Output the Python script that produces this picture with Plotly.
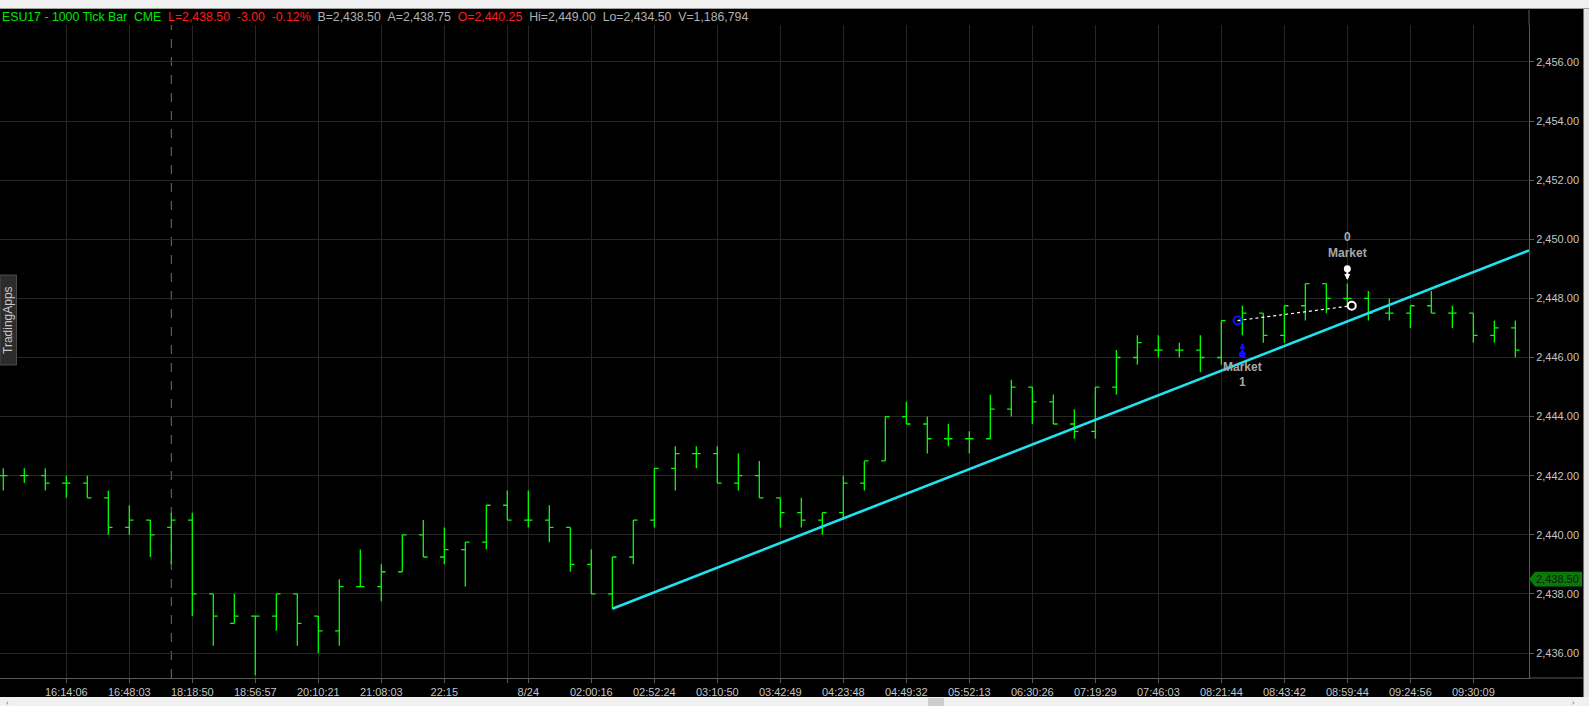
import plotly.graph_objects as go

# bar data (1000 tick bars)
bar_open = [2442, 2442, 2442, 2441.75, 2441.75, 2441.25, 2440.25, 2440.5, 2440.25, 2440.5,
            2438, 2437, 2437.25, 2437.25, 2438, 2437.25, 2436.75, 2438.25, 2438.25, 2438.75,
            2440, 2439.25, 2439.5, 2439.75, 2441, 2440.5, 2440.5, 2440.25, 2439, 2438,
            2439.25, 2440.5, 2442.25, 2442.75, 2442.75, 2441.75, 2442, 2441.25, 2440.75, 2440.5,
            2440.75, 2441.75, 2442.5, 2444, 2443.75, 2443.25, 2443.25, 2443.25, 2444.25, 2445,
            2444.5, 2443.75, 2443.5, 2445, 2446, 2446.25, 2446.25, 2446.25, 2446, 2447.25,
            2447.5, 2446.75, 2447.75, 2448.5, 2448, 2448, 2447.5, 2447.5, 2447.75, 2447.5,
            2447.5, 2446.75, 2447]
bar_high = [2442.25, 2442.25, 2442.25, 2442, 2442, 2441.5, 2441, 2440.5, 2440.75, 2440.75,
            2438, 2438, 2437.25, 2438, 2438, 2437.25, 2438.5, 2439.5, 2439, 2440,
            2440.5, 2440.25, 2439.75, 2441, 2441.5, 2441.5, 2441, 2440.25, 2439.5, 2439.25,
            2440.5, 2442.25, 2443, 2443, 2443, 2442.75, 2442.5, 2441.25, 2441.25, 2440.75,
            2442, 2442.5, 2444, 2444.5, 2444, 2443.75, 2443.5, 2444.75, 2445.25, 2445,
            2444.75, 2444.25, 2445, 2446.25, 2446.75, 2446.75, 2446.5, 2446.75, 2447.25, 2447.75,
            2447.5, 2447.75, 2448.5, 2448.5, 2448.5, 2448.25, 2448, 2447.75, 2448.25, 2447.75,
            2447.5, 2447.25, 2447.25]
bar_low = [2441.5, 2441.75, 2441.5, 2441.25, 2441.25, 2440, 2440, 2439.25, 2439, 2437.25,
           2436.25, 2437, 2435.25, 2436.75, 2436.25, 2436, 2436.25, 2438.25, 2437.75, 2438.75,
           2439.25, 2439, 2438.25, 2439.5, 2440.5, 2440.25, 2439.75, 2438.75, 2438, 2437.5,
           2439, 2440.25, 2441.5, 2442.25, 2441.75, 2441.5, 2441.25, 2440.25, 2440.25, 2440,
           2440.5, 2441.5, 2442.5, 2443.75, 2442.75, 2443, 2442.75, 2443.25, 2444, 2443.75,
           2443.75, 2443.25, 2443.25, 2444.75, 2445.75, 2446, 2446, 2445.5, 2445.75, 2446.75,
           2446.5, 2446.5, 2447.25, 2447.5, 2447.75, 2447.25, 2447.25, 2447, 2447.5, 2447,
           2446.5, 2446.5, 2446]
bar_close = [2442, 2442, 2441.75, 2441.75, 2441.25, 2440.25, 2440.5, 2440, 2440.5, 2438,
             2437.25, 2437.25, 2437.25, 2438, 2437, 2436.75, 2438.25, 2438.25, 2438.75, 2440,
             2439.25, 2439.5, 2439.75, 2441, 2440.5, 2440.5, 2440.25, 2439, 2438, 2439.25,
             2440.5, 2442.25, 2442.75, 2442.75, 2441.75, 2442, 2441.25, 2440.75, 2440.5, 2440.75,
             2441.75, 2442.5, 2444, 2443.75, 2443.25, 2443.25, 2443.25, 2444.25, 2445, 2444.5,
             2443.75, 2443.5, 2445, 2446, 2446.5, 2446.25, 2446.25, 2446, 2447.25, 2447.5,
             2446.75, 2447.75, 2448.5, 2448, 2448, 2447.5, 2447.5, 2447.75, 2447.5, 2447.5,
             2446.75, 2447, 2446.25]
bar_idx = list(range(len(bar_close)))

# time axis labels (bar index -> label)
tick_bars = [3, 6, 9, 12, 15, 18, 21, 24, 25, 28, 31, 34, 37, 40, 43, 46, 49, 52, 55, 58, 61, 64, 67, 70]
tick_labels = ['16:14:06', '16:48:03', '18:18:50', '18:56:57', '20:10:21', '21:08:03', '22:15', '',
               '8/24', '02:00:16', '02:52:24', '03:10:50', '03:42:49', '04:23:48', '04:49:32',
               '05:52:13', '06:30:26', '07:19:29', '07:46:03', '08:21:44', '08:43:42', '08:59:44',
               '09:24:56', '09:30:09']
session_break = 8

# trend line anchors
trend_x = [29, 56]
trend_y = [2437.5, 2445.0]

# trade markers
entry_x, entry_y = 58.77, 2447.25
exit_x, exit_y = 64.21, 2447.75
buy_bar, buy_tip, buy_tail = 59, 2446.5, 2446.1
sell_bar, sell_tip, sell_tail = 64, 2448.62, 2449.0
last_price = 2438.5

X_RANGE = [-0.157, 72.65]
Y_RANGE = [2435.155, 2457.25]

# pixel helpers for frame decorations
PW, PH, TOP, BOT = 1529, 653, 25, 678
def px(x):
    return x / PW
def py(y):
    return (BOT - y) / PH

GREEN = '#00ff00'
GREY_TXT = '#c4c4c4'
GRID = '#262626'
FONT = 'Liberation Sans, Arial'

fig = go.Figure()
fig.add_trace(go.Ohlc(x=bar_idx, open=bar_open, high=bar_high, low=bar_low, close=bar_close,
                      increasing_line_color=GREEN, decreasing_line_color=GREEN,
                      line_width=1.3, tickwidth=0.2, hoverinfo='skip', showlegend=False))

# trend ray, extended to the right edge
slope = (trend_y[1] - trend_y[0]) / (trend_x[1] - trend_x[0])
ray_x = [trend_x[0], X_RANGE[1]]
ray_y = [trend_y[0], trend_y[0] + slope * (X_RANGE[1] - trend_x[0])]
fig.add_trace(go.Scatter(x=ray_x, y=ray_y, mode='lines', line=dict(color='#1fe3ee', width=2.6),
                         hoverinfo='skip', showlegend=False))

# trade line + markers
fig.add_trace(go.Scatter(x=[entry_x, exit_x], y=[entry_y, exit_y], mode='lines',
                         line=dict(color='white', width=1.2, dash='dot'), hoverinfo='skip', showlegend=False))
fig.add_trace(go.Scatter(x=[entry_x], y=[entry_y], mode='markers',
                         marker=dict(symbol='circle-open', size=8, color='#1010ff', line=dict(width=2)),
                         hoverinfo='skip', showlegend=False))
fig.add_trace(go.Scatter(x=[exit_x], y=[exit_y], mode='markers',
                         marker=dict(symbol='circle', size=8, color='black', line=dict(width=2, color='white')),
                         hoverinfo='skip', showlegend=False))
fig.add_trace(go.Scatter(x=[buy_bar], y=[buy_tail], mode='markers', marker=dict(size=7, color='#1010ff'),
                         hoverinfo='skip', showlegend=False))
fig.add_trace(go.Scatter(x=[sell_bar], y=[sell_tail], mode='markers', marker=dict(size=7, color='white'),
                         hoverinfo='skip', showlegend=False))

annotations = []
annotations.append(dict(x=buy_bar, y=buy_tip, ax=buy_bar, ay=buy_tail, axref='x', ayref='y',
                        xref='x', yref='y', text='', showarrow=True, arrowhead=2, arrowsize=0.6,
                        arrowwidth=2, arrowcolor='#1010ff'))
annotations.append(dict(x=sell_bar, y=sell_tip, ax=sell_bar, ay=sell_tail, axref='x', ayref='y',
                        xref='x', yref='y', text='', showarrow=True, arrowhead=2, arrowsize=0.6,
                        arrowwidth=2, arrowcolor='white'))
lbl_font = dict(family=FONT, size=12, color='#a8a8a8')
annotations.append(dict(x=buy_bar, y=2445.69, xref='x', yref='y', text='<b>Market</b>', showarrow=False, font=lbl_font))
annotations.append(dict(x=buy_bar, y=2445.17, xref='x', yref='y', text='<b>1</b>', showarrow=False, font=lbl_font))
annotations.append(dict(x=sell_bar, y=2450.09, xref='x', yref='y', text='<b>0</b>', showarrow=False, font=lbl_font))
annotations.append(dict(x=sell_bar, y=2449.55, xref='x', yref='y', text='<b>Market</b>', showarrow=False, font=lbl_font))

# header line
sp = '\u00a0\u00a0'
header = (f'<span style="color:#00e800">ESU17 - 1000 Tick Bar{sp}CME</span>{sp}'
          f'<span style="color:#ff1c1c">L=2,438.50{sp}-3.00{sp}-0.12%</span>{sp}'
          f'<span style="color:#b0b0b0">B=2,438.50{sp}A=2,438.75</span>{sp}'
          f'<span style="color:#ff1c1c">O=2,440.25</span>{sp}'
          f'<span style="color:#b0b0b0">Hi=2,449.00{sp}Lo=2,434.50{sp}V=1,186,794</span>')
annotations.append(dict(x=px(0), y=py(17), xref='paper', yref='paper', xanchor='left', yanchor='middle',
                        text=header, showarrow=False, font=dict(family=FONT, size=12.3)))

# last price marker text
annotations.append(dict(x=px(1558), y=last_price, xref='paper', yref='y', xanchor='center', yanchor='middle',
                        text='2,438.50', showarrow=False,
                        font=dict(family=FONT, size=11, color='#0c1a0c')))

# side tab
annotations.append(dict(x=px(8), y=py(320), xref='paper', yref='paper', xanchor='center', yanchor='middle',
                        text='TradingApps', textangle=-90,
                        showarrow=False, font=dict(family=FONT, size=12, color='#c8c8c8')))

# scrollbar arrows
annotations.append(dict(x=px(7), y=py(701), xref='paper', yref='paper', xanchor='center', yanchor='middle',
                        text='\u2039', showarrow=False, font=dict(size=8, color='#606060')))
annotations.append(dict(x=px(1574), y=py(701), xref='paper', yref='paper', xanchor='center', yanchor='middle',
                        text='\u203a', showarrow=False, font=dict(size=8, color='#606060')))

shapes = [
    # session break
    dict(type='line', xref='x', yref='paper', x0=session_break, x1=session_break, y0=0, y1=1,
         line=dict(color='#707070', width=1, dash='dash'), layer='below'),
    # top window strip
    dict(type='rect', xref='paper', yref='paper', x0=px(0), x1=px(1589), y0=py(8), y1=py(0),
         fillcolor='#f0f0f0', line_width=0, layer='above'),
    dict(type='line', xref='paper', yref='paper', x0=px(0), x1=px(1589), y0=py(8.5), y1=py(8.5),
         line=dict(color='#a0a0a0', width=1), layer='above'),
    # right axis line extension above plot
    dict(type='line', xref='paper', yref='paper', x0=1, x1=1, y0=1, y1=py(10),
         line=dict(color='#5a5a5a', width=1), layer='above'),
    # bottom axis line extension under price scale
    dict(type='line', xref='paper', yref='paper', x0=1, x1=px(1583), y0=0, y1=0,
         line=dict(color='#5a5a5a', width=1), layer='above'),
    # right window strip
    dict(type='rect', xref='paper', yref='paper', x0=px(1583.5), x1=px(1589), y0=py(697), y1=py(9),
         fillcolor='#e4e4e4', line_width=0, layer='above'),
    # bottom scrollbar
    dict(type='rect', xref='paper', yref='paper', x0=px(0), x1=px(1589), y0=py(706), y1=py(697),
         fillcolor='#f0f0f0', line_width=0, layer='above'),
    dict(type='rect', xref='paper', yref='paper', x0=px(928), x1=px(944), y0=py(706), y1=py(698),
         fillcolor='#cdcdcd', line_width=0, layer='above'),
    # side tab
    dict(type='rect', xref='paper', yref='paper', x0=px(0), x1=px(16.5), y0=py(365), y1=py(275),
         fillcolor='#2c2c2c', line=dict(color='#4a4a4a', width=1), layer='above'),
    # last price box
    dict(type='path', xref='paper', yref='y',
         path=(f'M {px(1529)},{last_price} L {px(1535)},{last_price + 0.25} L {px(1582)},{last_price + 0.25} '
               f'L {px(1582)},{last_price - 0.25} L {px(1535)},{last_price - 0.25} Z'),
         fillcolor='#087a08', line_width=0, layer='above'),
]

fig.update_layout(
    width=1589, height=706,
    margin=dict(l=0, r=60, t=TOP, b=706 - BOT, pad=0, autoexpand=False),
    paper_bgcolor='black', plot_bgcolor='black',
    showlegend=False,
    annotations=annotations,
    shapes=shapes,
    xaxis=dict(range=X_RANGE, tickmode='array', tickvals=tick_bars, ticktext=tick_labels,
               showgrid=True, gridcolor=GRID, gridwidth=1, zeroline=False,
               showline=True, linecolor='#5a5a5a', linewidth=1,
               ticks='outside', ticklen=4, tickcolor='#5a5a5a',
               tickfont=dict(family=FONT, size=11, color=GREY_TXT),
               rangeslider=dict(visible=False), fixedrange=True, automargin=False),
    yaxis=dict(range=Y_RANGE, side='right', dtick=2, tick0=2436, tickformat=',.2f',
               showgrid=True, gridcolor=GRID, gridwidth=1, zeroline=False,
               showline=True, linecolor='#5a5a5a', linewidth=1,
               ticks='outside', ticklen=4, tickcolor='#5a5a5a',
               tickfont=dict(family=FONT, size=11, color=GREY_TXT),
               fixedrange=True, automargin=False),
)

fig.write_html("out.html", config={'displayModeBar': False},
               post_script="document.body.style.margin='0';document.body.style.overflow='hidden';")
